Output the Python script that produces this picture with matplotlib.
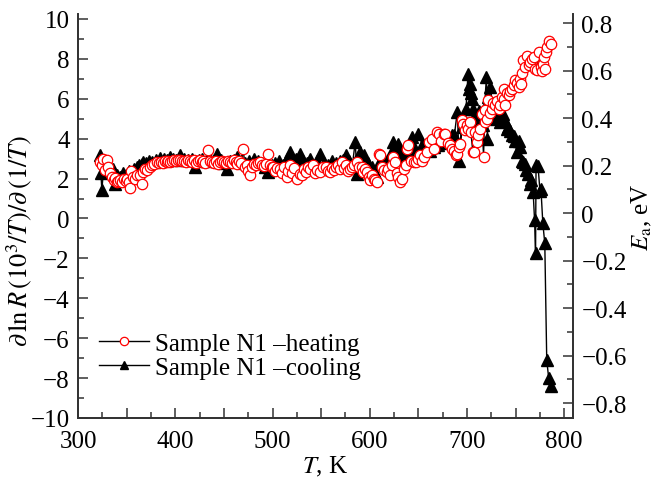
import numpy as np
import matplotlib
matplotlib.use("Agg")
from matplotlib import pyplot as plt
from matplotlib.ticker import MultipleLocator, FuncFormatter

plt.rcParams['font.family'] = ['Liberation Serif', 'DejaVu Serif']
plt.rcParams['mathtext.fontset'] = 'stix'
plt.rcParams['font.size'] = 18

# heating: T (K) and d lnR / d(1/T) (10^3 K)
t_heat = [322.6, 324.5, 326, 327.8, 329.5, 331, 333, 335, 336.5, 338, 340, 341.5, 343, 345, 347,
          349, 350, 352, 353.5, 355, 357, 359, 361, 363.8, 365.5, 367, 369, 371, 374, 376, 378,
          381, 383, 385, 387, 389, 391, 393, 395, 397, 399, 401, 403, 405, 407, 409, 411, 413,
          415, 417, 419, 421, 423, 425, 427, 429, 431, 434, 436, 438, 440, 442, 444, 446, 448,
          450, 452, 454, 456, 458, 460, 462, 464, 466, 468, 470, 471.5, 473.6, 475, 477, 479,
          481, 483, 485, 487, 489, 491, 493, 495.8, 497, 499, 501, 503, 505, 508, 510, 512,
          514.6, 516, 518, 520, 522, 525, 528, 530, 532, 534, 536, 539, 542, 544, 546, 549, 552,
          555, 557, 559, 561, 563, 565, 567, 569, 571, 574, 576, 578, 580, 582, 584, 586.7, 589,
          592, 593.5, 595, 597, 599, 600.4, 602, 604, 605.5, 607, 609, 611, 613, 615, 617.5, 619,
          621, 622.5, 624.4, 626, 628, 629.5, 631, 633, 635, 637, 638, 639.8, 642, 645, 648, 650,
          652, 654, 656, 659, 661, 663.9, 666, 669, 670.7, 673, 676, 677.5, 680, 682.6, 685, 687,
          689, 690, 692, 693, 694.7, 696.4, 698, 700, 701.5, 703, 704, 706, 706.7, 708, 710,
          711.5, 713, 715.3, 717, 718, 719, 720.5, 722, 723.5, 725.6, 727, 729, 731, 732.5, 734,
          735.5, 737.6, 738.2, 739, 741, 742.8, 744, 746, 748, 749.6, 751, 753, 755, 756, 757,
          758, 760, 762, 763.5, 765, 767, 769, 770, 772, 774, 776, 777, 778, 779, 780, 781,
          782.5, 784, 786]
v_heat = [2.83, 2.70, 3.00, 2.42, 2.92, 2.60, 2.30, 2.10, 1.95, 2.03, 1.85, 1.90, 1.95, 1.82, 2.00,
          1.90, 2.00, 1.85, 1.53, 2.40, 2.10, 2.00, 2.20, 2.17, 1.72, 2.35, 2.50, 2.45, 2.58, 2.70, 2.75,
          2.83, 2.78, 2.85, 2.80, 2.90, 2.83, 2.88, 2.85, 2.90, 2.92, 2.87, 2.95, 2.92, 2.88, 2.90, 2.85, 2.95,
          2.90, 2.85, 2.92, 2.80, 2.90, 2.95, 2.85, 2.90, 2.80, 3.42, 2.90, 2.85, 2.80, 2.90, 2.75, 2.83, 2.90,
          2.85, 2.80, 2.90, 2.85, 2.80, 2.92, 2.85, 2.75, 2.90, 2.80, 3.50, 2.60, 2.67, 2.40, 2.17, 2.60,
          2.75, 2.70, 2.80, 2.83, 2.70, 2.65, 2.75, 3.25, 2.70, 2.58, 2.60, 2.40, 2.55, 2.50, 2.30, 2.60,
          2.08, 2.40, 2.70, 2.30, 2.55, 2.00, 2.25, 2.17, 2.50, 2.35, 2.60, 2.50, 2.67, 2.30, 2.45, 2.33, 2.60,
          2.58, 2.40, 2.33, 2.55, 2.45, 2.60, 2.70, 2.50, 2.83, 2.55, 2.67, 2.40, 2.50, 2.60, 2.70, 2.83, 2.60,
          2.58, 2.33, 2.50, 2.33, 2.10, 1.92, 2.20, 2.00, 1.92, 1.83, 3.25, 3.17, 2.60, 2.45, 2.33, 2.50,
          2.20, 2.70, 3.08, 2.83, 2.30, 2.10, 1.83, 2.00, 2.50, 2.70, 3.50, 3.67, 2.90, 2.83, 2.83, 3.00,
          3.17, 2.90, 3.10, 3.33, 3.83, 4.00, 3.50, 4.33, 4.25, 3.90, 4.25, 4.25, 3.80, 3.67, 3.50, 3.40,
          3.17, 3.25, 3.60, 3.75, 4.92, 4.75, 4.42, 4.67, 4.50, 4.83, 4.33, 3.33, 3.33, 4.33, 3.83,
          4.20, 4.50, 5.25, 3.10, 4.83, 5.42, 5.00, 5.92, 5.30, 5.50, 5.80, 5.67, 5.90, 5.50, 5.67,
          6.10, 6.00, 6.50, 5.67, 6.30, 6.17, 6.40, 6.50, 6.70, 6.92, 6.80, 6.58, 7.00, 6.75, 7.30,
          7.92, 7.60, 8.17, 7.70, 7.83, 8.00, 8.08, 7.50, 7.42, 8.33, 7.60, 7.40, 7.75, 8.10, 7.50, 8.33,
          8.60, 8.92, 8.75]

# cooling
t_cool = [322.6, 323.5, 324.5, 327, 330, 333, 336.4, 338, 340, 343, 346, 349, 352, 355, 358, 361,
          363, 365.5, 367, 370, 373, 376, 380, 384, 388, 391, 394.5, 398, 401, 405, 409, 413, 417,
          420, 424, 428, 432, 436, 440, 443, 447, 450, 453, 456, 460, 464, 468, 472, 476, 481, 485,
          489, 492, 495, 499, 503, 507, 511, 515, 518, 521, 524, 528, 531, 535, 539, 542, 546, 549,
          553, 557, 561, 565, 569, 573, 576, 579, 582, 585, 587, 590, 594, 598, 602, 604, 607, 611,
          615, 619, 622, 624, 627, 629, 633, 636, 640, 643, 646, 650, 654, 658, 662, 666, 670, 674,
          678, 682, 685, 687, 690, 692, 695, 697, 699, 701, 702, 703, 704.5, 705, 706, 708, 710,
          712, 714, 716, 718, 720, 721, 722, 724, 726, 728, 730, 732, 734, 737, 739, 741, 742, 744,
          746, 748, 749.5, 751, 753, 755, 757, 758, 760, 761, 763, 765, 766, 768, 769.5, 770.5, 771,
          773, 775, 776, 778, 780, 782, 784, 786]
v_cool = [3.17, 2.30, 1.42, 2.90, 2.60, 2.40, 2.50, 1.75, 2.20, 2.10, 2.30, 2.20, 2.40, 2.30, 2.50, 2.60,
          2.70, 2.75, 2.83, 2.80, 2.90, 2.85, 2.95, 3.03, 3.00, 2.95, 3.08, 3.00, 2.95, 3.17, 3.00, 2.95, 3.00,
          2.58, 2.95, 3.00, 2.90, 3.00, 2.95, 3.25, 2.95, 2.80, 2.50, 2.90, 2.95, 3.08, 2.90, 2.80, 2.90, 3.00, 2.90,
          2.80, 2.60, 2.33, 2.70, 2.80, 2.90, 2.70, 3.00, 3.33, 2.90, 3.00, 3.25, 2.90, 2.80, 3.00, 2.70, 2.90, 3.25,
          2.80, 2.70, 2.90, 2.80, 2.90, 2.95, 3.17, 2.90, 2.60, 3.83, 2.25, 3.33, 3.17, 2.80, 2.60, 2.40, 2.08, 2.90,
          3.00, 2.80, 3.30, 3.83, 3.50, 3.75, 3.20, 3.00, 3.40, 4.08, 3.60, 4.25, 3.70, 3.50, 3.40, 3.60, 3.70, 3.80,
          3.90, 4.00, 4.20, 4.17, 5.35, 2.90, 4.60, 5.00, 5.50, 7.25, 6.50, 6.75, 6.30, 6.00, 5.50, 5.20, 4.80,
          5.40, 5.00, 4.70, 5.60, 7.10, 4.00, 6.10, 6.60, 5.80, 5.50, 5.00, 5.20, 4.83, 5.25, 4.90, 4.50, 4.60, 4.40,
          4.20, 4.15, 3.90, 3.33, 3.90, 3.60, 2.90, 2.83, 2.75, 2.42, 2.25, 1.75, 1.92, 1.35, -0.10, -1.75, 2.67,
          2.65, 1.40, 1.50, -0.25, -1.25, -7.10, -8.00, -8.40]

fig = plt.figure(figsize=(6.69, 4.81), dpi=100)
ax = fig.add_axes([0.1166, 0.1289, 0.7399, 0.8399])

ax.plot(t_cool, v_cool, '-', color='black', lw=1, marker='^', ms=8,
        mfc='black', mec='black', label='Sample N1 \u2013cooling', zorder=2)
ax.plot(t_heat, v_heat, '-', color='black', lw=1, marker='o', ms=7.5,
        mfc='white', mec='red', mew=0.9, label='Sample N1 \u2013heating', zorder=3)

ax.set_xlim(300, 809)
ax.set_ylim(-10, 10.25)
ax.xaxis.set_major_locator(MultipleLocator(50))
ax.xaxis.set_minor_locator(MultipleLocator(25))
ax.xaxis.set_major_formatter(FuncFormatter(lambda x, p: '%d' % x if x % 100 == 0 else ''))
ax.yaxis.set_major_locator(MultipleLocator(2))
ax.yaxis.set_minor_locator(MultipleLocator(1))

ax.set_xlabel(r'$T$, K', labelpad=1)
ax.set_ylabel(r'$\partial\,\ln R\,(10^3/T)/\partial\,(1/T)$', fontsize=19)
ax.yaxis.set_label_coords(-0.088, 0.44)

ax2 = ax.twinx()
ax2.set_ylim(-0.863, 0.838)
ax2.yaxis.set_major_locator(MultipleLocator(0.2))
ax2.yaxis.set_minor_locator(MultipleLocator(0.1))
ax2.yaxis.set_major_formatter(FuncFormatter(lambda y, p: ('%g' % round(y, 2)).replace('-', '\u2212')))
ax2.set_ylabel(r'$E_{\rm a}$, eV', labelpad=2)

for a in (ax, ax2):
    a.spines['top'].set_visible(False)
    for s in a.spines.values():
        s.set_linewidth(1.3)
        s.set_color('#333333')
    a.tick_params(which='both', direction='in', width=1.1, color='#333333')
    a.tick_params(which='major', length=7)
    a.tick_params(which='minor', length=4)
ax.tick_params(axis='x', pad=9)
ax.tick_params(axis='y', pad=6)
ax2.tick_params(axis='y', pad=6)

h, l = ax.get_legend_handles_labels()
ax.legend(h[::-1], l[::-1], loc='lower left', bbox_to_anchor=(0.012, 0.06), frameon=False,
          handlelength=2.0, handletextpad=0.25, labelspacing=0.05, borderaxespad=0.2, markerscale=0.8)

fig.savefig('out.png', dpi=100)
